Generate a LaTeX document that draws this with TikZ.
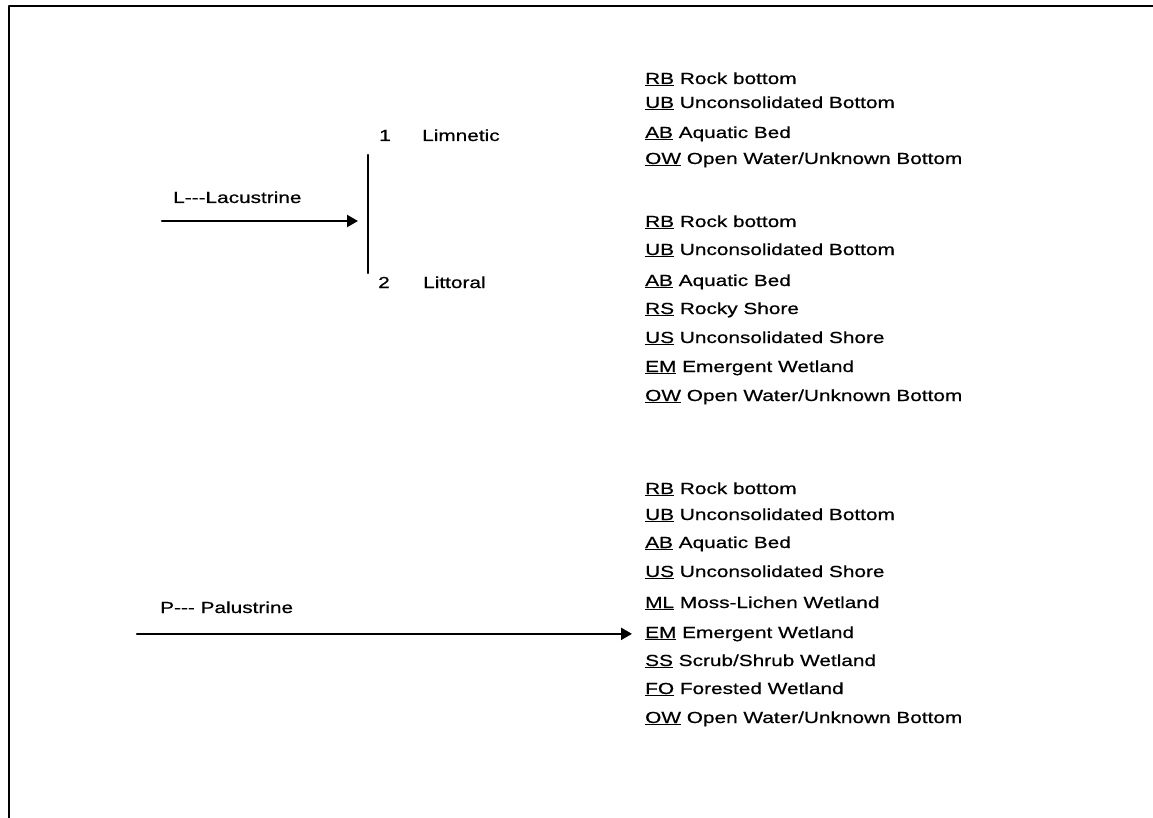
\documentclass[tikz,border=0pt]{standalone}
\usepackage{fontspec}
\setmainfont{Liberation Sans}[FakeStretch=1.3, FakeBold=0.6]
\usetikzlibrary{arrows.meta}

\newcommand{\cls}[1]{\underline{#1}}

\begin{document}
\begin{tikzpicture}[x=1pt, y=-1pt, >={Triangle[length=11pt,width=12pt]},
  line cap=round, line join=round,
  item/.style={anchor=base west, inner sep=0pt, font=\fontsize{16}{19}\selectfont},
  link/.style={line width=2.2pt}]

\useasboundingbox (0,0) rectangle (1153,818);

% ---------- Frame ----------
\draw[line width=2pt] (1153,6) -- (9,6) -- (9,818);

% ---------- Lacustrine ----------
\node[item] (lac) at (173,203) {L-{}-{}-Lacustrine};

\coordinate (lacStart) at (162,221);
\coordinate (lacEnd) at (358,221);
\coordinate (barTop) at (368,155);
\coordinate (barBot) at (368,273);

\draw[link] (barTop) -- (barBot);
\draw[link,->] (lacStart) -- (lacEnd);

\node[item] (one) at (379,141) {1};
\node[item] (limn) at (422,141) {Limnetic};
\node[item] (two) at (378,288) {2};
\node[item] (litt) at (423,288) {Littoral};

% limnetic classes
\node[item] (lRB) at (645,84) {\cls{RB} Rock bottom};
\node[item] (lUB) at (645,108) {\cls{UB} Unconsolidated Bottom};
\node[item] (lAB) at (645,138) {\cls{AB} Aquatic Bed};
\node[item] (lOW) at (645,164) {\cls{OW} Open Water/Unknown Bottom};

% littoral classes
\node[item] (tRB) at (645,227) {\cls{RB} Rock bottom};
\node[item] (tUB) at (645,255) {\cls{UB} Unconsolidated Bottom};
\node[item] (tAB) at (645,286) {\cls{AB} Aquatic Bed};
\node[item] (tRS) at (645,314) {\cls{RS} Rocky Shore};
\node[item] (tUS) at (645,343) {\cls{US} Unconsolidated Shore};
\node[item] (tEM) at (645,372) {\cls{EM} Emergent Wetland};
\node[item] (tOW) at (645,401) {\cls{OW} Open Water/Unknown Bottom};

% ---------- Palustrine ----------
\node[item] (pal) at (160,613) {P-{}-{}- Palustrine};

\node[item] (pRB) at (645,494) {\cls{RB} Rock bottom};
\node[item] (pUB) at (645,520) {\cls{UB} Unconsolidated Bottom};
\node[item] (pAB) at (645,548) {\cls{AB} Aquatic Bed};
\node[item] (pUS) at (645,577) {\cls{US} Unconsolidated Shore};
\node[item] (pML) at (645,608) {\cls{ML} Moss-Lichen Wetland};
\node[item] (pEM) at (645,638) {\cls{EM} Emergent Wetland};
\node[item] (pSS) at (645,666) {\cls{SS} Scrub/Shrub Wetland};
\node[item] (pFO) at (645,694) {\cls{FO} Forested Wetland};
\node[item] (pOW) at (645,723) {\cls{OW} Open Water/Unknown Bottom};

\coordinate (palStart) at (137,0);
\draw[link,->,shorten >=13pt] (pEM.west -| palStart) -- (pEM.west);

\end{tikzpicture}
\end{document}
